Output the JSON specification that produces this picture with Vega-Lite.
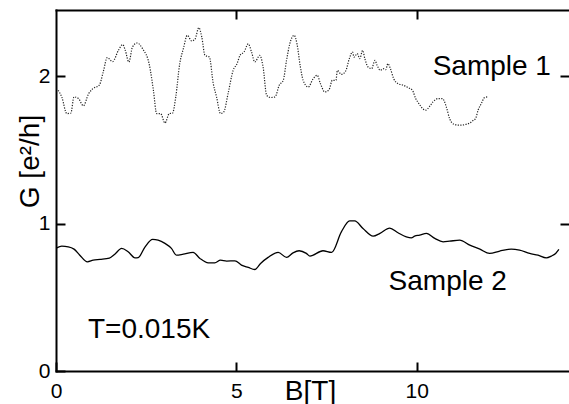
{
  "$schema": "https://vega.github.io/schema/vega-lite/v6.json",
  "autosize": {"type": "none"},
  "padding": {"left": 56, "top": 10, "right": 0, "bottom": 33},
  "width": 513,
  "height": 361,
  "background": "white",
  "config": {
    "view": {"stroke": null},
    "font": "Liberation Sans",
    "axis": {
      "grid": false,
      "labelFont": "Liberation Sans",
      "labelFontSize": 21,
      "labelColor": "black",
      "titleFont": "Liberation Sans",
      "titleFontSize": 28,
      "titleFontWeight": "normal",
      "titleColor": "black",
      "tickColor": "black",
      "tickWidth": 2,
      "tickSize": -9,
      "domainColor": "black",
      "domainWidth": 2,
      "domainCap": "square"
    }
  },
  "datasets": {
    "sample1": [
      {"B": 0.06, "G": 1.905}, {"B": 0.16, "G": 1.86}, {"B": 0.30, "G": 1.747}, {"B": 0.41, "G": 1.75},
      {"B": 0.50, "G": 1.86}, {"B": 0.62, "G": 1.85}, {"B": 0.76, "G": 1.80}, {"B": 0.90, "G": 1.88},
      {"B": 1.02, "G": 1.916}, {"B": 1.20, "G": 1.94}, {"B": 1.31, "G": 2.03}, {"B": 1.42, "G": 2.127},
      {"B": 1.57, "G": 2.10}, {"B": 1.73, "G": 2.176}, {"B": 1.85, "G": 2.215}, {"B": 1.92, "G": 2.176},
      {"B": 2.02, "G": 2.097}, {"B": 2.12, "G": 2.199}, {"B": 2.25, "G": 2.226}, {"B": 2.40, "G": 2.187},
      {"B": 2.59, "G": 2.075}, {"B": 2.70, "G": 1.905}, {"B": 2.79, "G": 1.747}, {"B": 2.90, "G": 1.747},
      {"B": 3.02, "G": 1.683}, {"B": 3.14, "G": 1.747}, {"B": 3.23, "G": 1.75}, {"B": 3.32, "G": 1.86},
      {"B": 3.43, "G": 2.086}, {"B": 3.53, "G": 2.187}, {"B": 3.64, "G": 2.278}, {"B": 3.76, "G": 2.24},
      {"B": 3.85, "G": 2.25}, {"B": 3.96, "G": 2.33}, {"B": 4.04, "G": 2.267}, {"B": 4.13, "G": 2.142},
      {"B": 4.25, "G": 2.131}, {"B": 4.36, "G": 1.95}, {"B": 4.45, "G": 1.86}, {"B": 4.56, "G": 1.747},
      {"B": 4.65, "G": 1.758}, {"B": 4.77, "G": 1.883}, {"B": 4.91, "G": 2.04}, {"B": 5.02, "G": 2.086},
      {"B": 5.10, "G": 2.142}, {"B": 5.21, "G": 2.165}, {"B": 5.33, "G": 2.22}, {"B": 5.42, "G": 2.165},
      {"B": 5.51, "G": 2.097}, {"B": 5.65, "G": 2.142}, {"B": 5.74, "G": 2.063}, {"B": 5.84, "G": 1.871},
      {"B": 5.95, "G": 1.856}, {"B": 6.07, "G": 1.86}, {"B": 6.19, "G": 1.94}, {"B": 6.30, "G": 1.973},
      {"B": 6.39, "G": 2.108}, {"B": 6.48, "G": 2.22}, {"B": 6.60, "G": 2.278}, {"B": 6.68, "G": 2.22},
      {"B": 6.77, "G": 2.07}, {"B": 6.85, "G": 1.973}, {"B": 6.99, "G": 1.927}, {"B": 7.13, "G": 1.984},
      {"B": 7.24, "G": 2.007}, {"B": 7.33, "G": 1.95}, {"B": 7.45, "G": 1.894}, {"B": 7.57, "G": 1.91},
      {"B": 7.66, "G": 1.973}, {"B": 7.76, "G": 1.973}, {"B": 7.80, "G": 2.04}, {"B": 7.91, "G": 2.013},
      {"B": 8.03, "G": 2.036}, {"B": 8.13, "G": 2.12}, {"B": 8.22, "G": 2.165}, {"B": 8.26, "G": 2.13},
      {"B": 8.35, "G": 2.154}, {"B": 8.42, "G": 2.12}, {"B": 8.50, "G": 2.176}, {"B": 8.56, "G": 2.12},
      {"B": 8.65, "G": 2.063}, {"B": 8.75, "G": 2.052}, {"B": 8.84, "G": 2.108}, {"B": 8.90, "G": 2.075},
      {"B": 8.99, "G": 2.04}, {"B": 9.07, "G": 2.052}, {"B": 9.14, "G": 2.045}, {"B": 9.20, "G": 2.086},
      {"B": 9.27, "G": 2.052}, {"B": 9.36, "G": 1.984}, {"B": 9.48, "G": 1.95}, {"B": 9.62, "G": 1.94},
      {"B": 9.76, "G": 1.923}, {"B": 9.88, "G": 1.905}, {"B": 9.97, "G": 1.849}, {"B": 10.06, "G": 1.815},
      {"B": 10.16, "G": 1.781}, {"B": 10.25, "G": 1.77}, {"B": 10.36, "G": 1.797}, {"B": 10.45, "G": 1.826},
      {"B": 10.59, "G": 1.849}, {"B": 10.71, "G": 1.849}, {"B": 10.82, "G": 1.792}, {"B": 10.91, "G": 1.713},
      {"B": 11.03, "G": 1.675}, {"B": 11.19, "G": 1.668}, {"B": 11.38, "G": 1.675}, {"B": 11.47, "G": 1.683},
      {"B": 11.56, "G": 1.70}, {"B": 11.63, "G": 1.713}, {"B": 11.70, "G": 1.77}, {"B": 11.79, "G": 1.815},
      {"B": 11.88, "G": 1.856}, {"B": 11.96, "G": 1.86}
    ],
    "sample2": [
      {"B": 0.02, "G": 0.836}, {"B": 0.16, "G": 0.847}, {"B": 0.34, "G": 0.843}, {"B": 0.50, "G": 0.827},
      {"B": 0.66, "G": 0.786}, {"B": 0.87, "G": 0.741}, {"B": 1.03, "G": 0.752}, {"B": 1.22, "G": 0.757},
      {"B": 1.48, "G": 0.766}, {"B": 1.63, "G": 0.793}, {"B": 1.82, "G": 0.832}, {"B": 2.00, "G": 0.809},
      {"B": 2.19, "G": 0.768}, {"B": 2.28, "G": 0.77}, {"B": 2.47, "G": 0.843}, {"B": 2.68, "G": 0.893},
      {"B": 2.83, "G": 0.888}, {"B": 3.02, "G": 0.866}, {"B": 3.20, "G": 0.832}, {"B": 3.34, "G": 0.786},
      {"B": 3.53, "G": 0.793}, {"B": 3.80, "G": 0.805}, {"B": 3.99, "G": 0.764}, {"B": 4.22, "G": 0.734},
      {"B": 4.40, "G": 0.734}, {"B": 4.56, "G": 0.752}, {"B": 4.73, "G": 0.746}, {"B": 4.96, "G": 0.748},
      {"B": 5.14, "G": 0.719}, {"B": 5.33, "G": 0.703}, {"B": 5.51, "G": 0.689}, {"B": 5.67, "G": 0.73},
      {"B": 5.88, "G": 0.771}, {"B": 6.16, "G": 0.805}, {"B": 6.39, "G": 0.771}, {"B": 6.57, "G": 0.802},
      {"B": 6.74, "G": 0.816}, {"B": 6.94, "G": 0.798}, {"B": 7.04, "G": 0.78}, {"B": 7.40, "G": 0.816},
      {"B": 7.64, "G": 0.805}, {"B": 7.91, "G": 0.944}, {"B": 8.14, "G": 1.019}, {"B": 8.28, "G": 1.019},
      {"B": 8.51, "G": 0.967}, {"B": 8.79, "G": 0.915}, {"B": 8.98, "G": 0.934}, {"B": 9.25, "G": 0.97},
      {"B": 9.48, "G": 0.938}, {"B": 9.71, "G": 0.911}, {"B": 9.85, "G": 0.904}, {"B": 9.94, "G": 0.915},
      {"B": 10.08, "G": 0.922}, {"B": 10.27, "G": 0.934}, {"B": 10.50, "G": 0.90}, {"B": 10.73, "G": 0.877},
      {"B": 10.91, "G": 0.881}, {"B": 11.19, "G": 0.888}, {"B": 11.47, "G": 0.854}, {"B": 11.75, "G": 0.827},
      {"B": 12.02, "G": 0.798}, {"B": 12.30, "G": 0.814}, {"B": 12.62, "G": 0.827}, {"B": 12.85, "G": 0.82},
      {"B": 13.13, "G": 0.798}, {"B": 13.36, "G": 0.786}, {"B": 13.59, "G": 0.768}, {"B": 13.73, "G": 0.78},
      {"B": 13.85, "G": 0.798}, {"B": 13.94, "G": 0.825}
    ],
    "labels": [
      {"B": 10.44, "G": 2.007, "text": "Sample 1"},
      {"B": 9.22, "G": 0.549, "text": "Sample 2"},
      {"B": 0.886, "G": 0.224, "text": "T=0.015K"}
    ]
  },
  "layer": [
    {
      "data": {"name": "sample2"},
      "mark": {"type": "line", "color": "black", "strokeWidth": 1.3, "interpolate": "monotone"},
      "encoding": {
        "x": {
          "field": "B", "type": "quantitative",
          "scale": {"domain": [0, 14.22], "nice": false, "zero": false},
          "axis": {
            "orient": "bottom", "values": [0, 5, 10], "format": "d",
            "labelPadding": 18, "labelBaseline": "top", "labelFlush": false,
            "title": "B[T]", "titleX": 254, "titleY": 28,
            "titleAnchor": null, "titleAlign": "center", "titleBaseline": "alphabetic"
          }
        },
        "y": {
          "field": "G", "type": "quantitative",
          "scale": {"domain": [0, 2.45], "nice": false, "zero": false},
          "axis": {
            "orient": "left", "values": [0, 1, 2], "format": "d",
            "labelPadding": 15, "labelFlush": false, "labelBaseline": "middle",
            "title": "G [e²/h]", "titleAngle": 270, "titleX": -18, "titleY": 151,
            "titleAnchor": null, "titleAlign": "center", "titleBaseline": "alphabetic"
          }
        }
      }
    },
    {
      "data": {"name": "sample1"},
      "mark": {"type": "line", "color": "#222222", "strokeWidth": 1.2, "strokeDash": [1.2, 1.4], "interpolate": "monotone"},
      "encoding": {
        "x": {
          "field": "B", "type": "quantitative",
          "scale": {"domain": [0, 14.22], "nice": false, "zero": false},
          "axis": {"orient": "top", "values": [5, 10], "labels": false, "title": null}
        },
        "y": {
          "field": "G", "type": "quantitative",
          "scale": {"domain": [0, 2.45], "nice": false, "zero": false},
          "axis": {"orient": "right", "values": [1, 2], "labels": false, "title": null, "domain": false}
        }
      }
    },
    {
      "data": {"name": "labels"},
      "mark": {"type": "text", "align": "left", "baseline": "alphabetic", "fontSize": 28, "font": "Liberation Sans", "color": "black"},
      "encoding": {
        "x": {"field": "B", "type": "quantitative", "axis": null},
        "y": {"field": "G", "type": "quantitative", "axis": null},
        "text": {"field": "text"}
      }
    }
  ],
  "resolve": {"axis": {"x": "independent", "y": "independent"}}
}
